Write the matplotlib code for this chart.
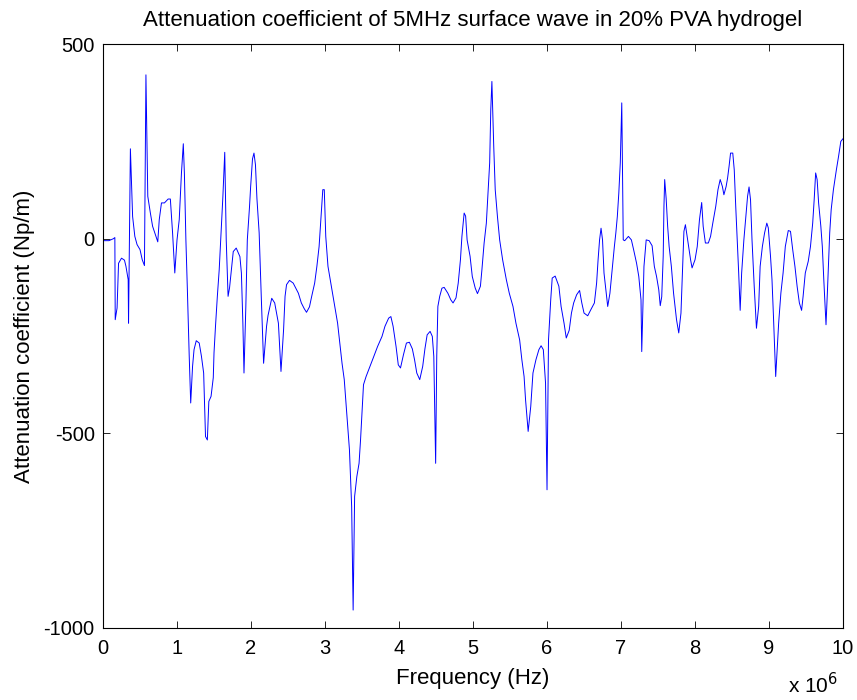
import matplotlib
matplotlib.use("Agg")
import matplotlib.pyplot as plt
from matplotlib.ticker import FuncFormatter
import numpy as np

plt.rcParams['font.family'] = ['Liberation Sans', 'DejaVu Sans']
plt.rcParams['axes.unicode_minus'] = False

# frequency, in MHz
freq_mhz = [
    0.00, 0.08, 0.14, 0.16, 0.165, 0.19, 0.21, 0.25, 0.29, 0.31, 0.34, 0.345, 0.37, 0.40, 0.43,
    0.46, 0.50, 0.53, 0.56, 0.58, 0.605, 0.64, 0.67, 0.70, 0.74, 0.76, 0.79, 0.83, 0.88, 0.91,
    0.94, 0.97, 1.00, 1.03, 1.06, 1.085, 1.10, 1.12, 1.14, 1.165, 1.185, 1.21, 1.23, 1.26, 1.30,
    1.33, 1.36, 1.385, 1.41, 1.43, 1.46, 1.49, 1.50, 1.52, 1.545, 1.57, 1.59, 1.62, 1.645, 1.665,
    1.69, 1.71, 1.74, 1.76, 1.80, 1.85, 1.87, 1.89, 1.905, 1.93, 1.95, 1.98, 1.995, 2.02, 2.04,
    2.06, 2.08, 2.11, 2.14, 2.17, 2.21, 2.23, 2.28, 2.32, 2.37, 2.405, 2.44, 2.46, 2.48, 2.52,
    2.57, 2.64, 2.68, 2.72, 2.75, 2.79, 2.82, 2.86, 2.89, 2.92, 2.94, 2.97, 2.99, 3.01, 3.04,
    3.07, 3.10, 3.14, 3.17, 3.20, 3.23, 3.26, 3.28, 3.30, 3.32, 3.33, 3.35, 3.36, 3.38, 3.40,
    3.43, 3.46, 3.48, 3.50, 3.52, 3.555, 3.60, 3.65, 3.71, 3.77, 3.81, 3.86, 3.89, 3.92, 3.96,
    3.99, 4.02, 4.06, 4.10, 4.14, 4.18, 4.21, 4.24, 4.28, 4.32, 4.35, 4.38, 4.42, 4.45, 4.47,
    4.48, 4.495, 4.51, 4.525, 4.55, 4.58, 4.61, 4.66, 4.70, 4.73, 4.77, 4.80, 4.83, 4.85, 4.88,
    4.90, 4.92, 4.96, 4.99, 5.03, 5.06, 5.10, 5.12, 5.15, 5.18, 5.20, 5.225, 5.24, 5.255, 5.28,
    5.30, 5.33, 5.36, 5.40, 5.45, 5.49, 5.54, 5.58, 5.63, 5.66, 5.69, 5.71, 5.745, 5.78, 5.81,
    5.85, 5.89, 5.92, 5.95, 5.98, 6.00, 6.02, 6.05, 6.07, 6.11, 6.16, 6.19, 6.23, 6.26, 6.30,
    6.33, 6.36, 6.40, 6.44, 6.47, 6.50, 6.55, 6.59, 6.64, 6.67, 6.69, 6.71, 6.73, 6.75, 6.77,
    6.80, 6.82, 6.85, 6.88, 6.91, 6.93, 6.95, 6.97, 6.99, 7.01, 7.03, 7.05, 7.10, 7.14, 7.17,
    7.21, 7.24, 7.27, 7.28, 7.31, 7.34, 7.38, 7.42, 7.45, 7.48, 7.51, 7.53, 7.55, 7.57, 7.58,
    7.59, 7.61, 7.63, 7.65, 7.68, 7.71, 7.75, 7.78, 7.81, 7.83, 7.85, 7.87, 7.90, 7.94, 7.96,
    8.00, 8.03, 8.06, 8.09, 8.11, 8.14, 8.18, 8.21, 8.24, 8.28, 8.31, 8.34, 8.37, 8.39, 8.42,
    8.44, 8.46, 8.48, 8.51, 8.53, 8.55, 8.57, 8.59, 8.61, 8.63, 8.66, 8.69, 8.71, 8.73, 8.75,
    8.77, 8.80, 8.83, 8.86, 8.88, 8.91, 8.94, 8.97, 8.99, 9.02, 9.04, 9.06, 9.09, 9.11, 9.13,
    9.16, 9.19, 9.22, 9.26, 9.29, 9.32, 9.35, 9.38, 9.41, 9.44, 9.46, 9.49, 9.53, 9.56, 9.59,
    9.61, 9.63, 9.65, 9.67, 9.70, 9.72, 9.74, 9.77, 9.79, 9.82, 9.84, 9.87, 9.91, 9.94, 9.97,
    10.0,
]

# attenuation coefficient (Np/m)
atten = [
    -5, -5, 0, 3, -208, -178, -63, -50, -55, -71, -105, -217, 231, 57, 6,
    -15, -28, -54, -69, 421, 109, 66, 32, 15, -8, 49, 92, 92, 102, 102,
    15, -88, -3, 49, 169, 244, 166, -3, -131, -302, -422, -328, -285, -262, -268,
    -302, -345, -508, -517, -418, -405, -357, -293, -225, -148, -80, -3, 109, 222, -3,
    -148, -126, -71, -33, -24, -46, -88, -217, -345, -174, -3, 83, 134, 205, 220,
    190, 103, 15, -157, -320, -225, -197, -153, -165, -217, -341, -234, -148, -118, -107,
    -114, -140, -165, -180, -189, -175, -148, -114, -71, -20, 40, 126, 126, 6, -71,
    -105, -140, -183, -217, -268, -320, -362, -414, -465, -517, -542, -637, -688, -954, -662,
    -611, -577, -517, -448, -375, -354, -332, -307, -277, -251, -225, -204, -200, -225, -277,
    -324, -332, -298, -268, -266, -283, -311, -345, -362, -328, -283, -247, -238, -251, -302,
    -414, -577, -300, -174, -148, -127, -125, -140, -157, -165, -152, -114, -54, 6, 66,
    58, -3, -45, -97, -127, -141, -122, -80, -11, 40, 109, 195, 332, 404, 237,
    126, 57, -3, -54, -105, -140, -174, -217, -260, -311, -354, -414, -495, -431, -345,
    -311, -285, -275, -285, -371, -645, -260, -157, -101, -96, -122, -174, -217, -255, -235,
    -191, -165, -144, -133, -165, -191, -198, -183, -165, -114, -54, -3, 27, -3, -88,
    -140, -174, -140, -80, -20, 15, 57, 117, 195, 349, -3, -5, 6, -3, -28,
    -63, -97, -157, -290, -71, -3, -5, -18, -71, -97, -131, -172, -149, -45, 83,
    152, 103, 32, -20, -71, -140, -208, -242, -191, -88, 19, 36, -3, -54, -75,
    -54, -20, 49, 93, 32, -11, -11, 6, 40, 83, 126, 152, 134, 113, 134,
    156, 186, 220, 220, 177, 83, -3, -88, -184, -88, -3, 66, 109, 133, 100,
    -3, -123, -230, -174, -71, -20, 15, 40, 28, -45, -105, -200, -354, -285, -217,
    -140, -88, -20, 21, 19, -28, -71, -123, -165, -184, -149, -88, -58, -20, 40,
    100, 169, 152, 92, 32, -20, -105, -221, -131, 15, 75, 126, 177, 212, 250,
    257,
]

freq_hz = np.array(freq_mhz) * 1e6

fig = plt.figure(figsize=(8.57, 7.0), dpi=100)
ax = fig.add_axes([0.1202, 0.1029, 0.8635, 0.8341])
ax.plot(freq_hz, atten, color='#0000ff', linewidth=0.7)

ax.set_xlim(0, 1e7)
ax.set_ylim(-1000, 500)
ax.set_xticks(np.arange(0, 1.01e7, 1e6))
ax.set_yticks([-1000, -500, 0, 500])
ax.xaxis.set_major_formatter(FuncFormatter(lambda v, p: '%d' % round(v / 1e6)))
ax.tick_params(direction='in', length=5, width=0.6, top=True, right=True,
               labelsize=14.5)
ax.tick_params(axis='x', pad=8)
ax.tick_params(axis='y', pad=6)
for s in ax.spines.values():
    s.set_linewidth(0.8)

ax.set_title('Attenuation coefficient of 5MHz surface wave in 20% PVA hydrogel',
             fontsize=16, pad=13)
ax.set_xlabel('Frequency (Hz)', fontsize=16, labelpad=7)
ax.set_ylabel('Attenuation coefficient (Np/m)', fontsize=16, labelpad=6)
fig.text(0.919, 0.004, 'x 10$^6$', fontsize=15, ha='left', va='bottom')

fig.savefig('out.png', dpi=100)
